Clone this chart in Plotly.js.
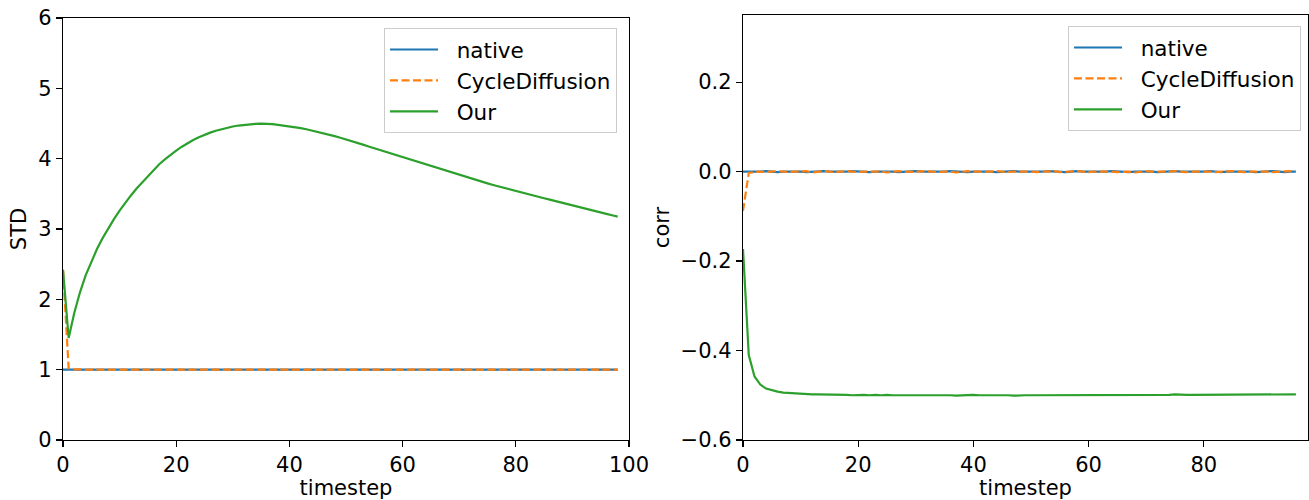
<!DOCTYPE html>
<html>
<head>
<meta charset="utf-8">
<script src="https://cdn.plot.ly/plotly-3.0.1.min.js"></script>
<style>html,body{margin:0;padding:0;background:#fff;}#chart{width:1309px;height:500px;}</style>
</head>
<body>
<div id="chart"></div>
<script>
// ---------- Data ----------
const seriesNames = ["native", "CycleDiffusion", "Our"];

// Left panel: STD per timestep (0..98)
const stdNative = [
1.00,1.00,1.00,1.00,1.00,1.00,1.00,1.00,1.00,1.00,
1.00,1.00,1.00,1.00,1.00,1.00,1.00,1.00,1.00,1.00,
1.00,1.00,1.00,1.00,1.00,1.00,1.00,1.00,1.00,1.00,
1.00,1.00,1.00,1.00,1.00,1.00,1.00,1.00,1.00,1.00,
1.00,1.00,1.00,1.00,1.00,1.00,1.00,1.00,1.00,1.00,
1.00,1.00,1.00,1.00,1.00,1.00,1.00,1.00,1.00,1.00,
1.00,1.00,1.00,1.00,1.00,1.00,1.00,1.00,1.00,1.00,
1.00,1.00,1.00,1.00,1.00,1.00,1.00,1.00,1.00,1.00,
1.00,1.00,1.00,1.00,1.00,1.00,1.00,1.00,1.00,1.00,
1.00,1.00,1.00,1.00,1.00,1.00,1.00,1.00,1.00];

const stdCycle = [
2.42,1.02,1.005,1.00,1.00,1.00,1.00,1.00,1.00,1.00,
1.00,1.00,1.00,1.00,1.00,1.00,1.00,1.00,1.00,1.00,
1.00,1.00,1.00,1.00,1.00,1.00,1.00,1.00,1.00,1.00,
1.00,1.00,1.00,1.00,1.00,1.00,1.00,1.00,1.00,1.00,
1.00,1.00,1.00,1.00,1.00,1.00,1.00,1.00,1.00,1.00,
1.00,1.00,1.00,1.00,1.00,1.00,1.00,1.00,1.00,1.00,
1.00,1.00,1.00,1.00,1.00,1.00,1.00,1.00,1.00,1.00,
1.00,1.00,1.00,1.00,1.00,1.00,1.00,1.00,1.00,1.00,
1.00,1.00,1.00,1.00,1.00,1.00,1.00,1.00,1.00,1.00,
1.00,1.00,1.00,1.00,1.00,1.00,1.00,1.00,1.00];

const stdOur = [
2.420,1.450,1.810,2.100,2.340,2.540,2.715,2.870,3.010,3.140,
3.260,3.372,3.477,3.575,3.665,3.751,3.831,3.920,3.990,4.055,
4.115,4.170,4.220,4.265,4.305,4.340,4.370,4.397,4.420,4.440,
4.457,4.471,4.482,4.490,4.495,4.497,4.495,4.490,4.480,4.470,
4.460,4.447,4.433,4.418,4.400,4.380,4.361,4.341,4.320,4.298,
4.276,4.251,4.225,4.200,4.174,4.149,4.123,4.098,4.072,4.047,
4.021,3.995,3.970,3.944,3.918,3.893,3.867,3.842,3.816,3.790,
3.765,3.741,3.717,3.694,3.671,3.648,3.626,3.604,3.582,3.560,
3.539,3.518,3.497,3.477,3.457,3.437,3.417,3.398,3.379,3.360,
3.339,3.318,3.298,3.277,3.257,3.236,3.216,3.196,3.176];

// Right panel: corr per timestep (0..96)
const corrNative = [
0.000,0.000,-0.001,0.000,0.001,0.000,-0.001,0.000,0.000,0.001,
0.000,-0.001,0.000,0.000,0.001,0.000,0.000,-0.001,0.000,0.001,
0.000,0.000,-0.001,0.000,0.000,0.001,0.000,-0.001,0.000,0.000,
0.001,0.000,0.000,0.000,-0.001,0.000,0.001,0.000,0.000,-0.001,
0.000,0.000,0.001,0.000,-0.001,0.000,0.000,0.001,0.000,0.000,
-0.001,0.000,0.000,0.001,0.000,0.000,-0.001,0.000,0.001,0.000,
0.000,0.000,-0.001,0.000,0.001,0.000,0.000,-0.001,0.000,0.000,
0.001,0.000,-0.001,0.000,0.000,0.001,0.000,0.000,-0.001,0.000,
0.000,0.001,0.000,-0.001,0.000,0.000,0.001,0.000,0.000,-0.001,
0.000,0.000,0.001,0.000,-0.001,0.000,0.000];

const corrCycle = [
-0.088,-0.003,-0.001,0.000,-0.001,0.000,0.001,0.000,-0.001,0.000,
0.000,0.001,-0.002,0.000,0.001,0.000,-0.001,0.000,0.001,0.000,
-0.001,0.000,0.000,0.001,0.000,-0.002,0.000,0.001,0.000,0.000,
-0.001,0.001,0.000,0.000,-0.001,0.000,0.000,-0.002,0.000,0.001,
0.000,0.000,-0.001,0.000,0.001,0.000,-0.001,0.000,0.000,0.001,
0.000,-0.001,0.000,0.000,0.001,-0.001,0.000,0.000,0.001,0.000,
-0.001,0.000,0.000,0.001,0.000,-0.001,0.000,0.000,-0.002,0.000,
0.001,0.000,0.000,-0.001,0.000,0.001,0.000,-0.001,0.000,0.000,
0.001,0.000,-0.001,0.000,0.000,0.001,0.000,-0.001,0.000,0.000,
0.001,0.000,-0.001,0.000,0.000,0.001,0.000];

const corrOur = [
-0.173,-0.410,-0.458,-0.476,-0.485,-0.489,-0.492,-0.494,-0.495,-0.496,
-0.497,-0.497,-0.498,-0.498,-0.498,-0.499,-0.499,-0.498,-0.499,-0.500,
-0.499,-0.499,-0.500,-0.499,-0.500,-0.499,-0.500,-0.500,-0.499,-0.499,
-0.500,-0.500,-0.499,-0.500,-0.499,-0.500,-0.500,-0.501,-0.500,-0.500,
-0.499,-0.500,-0.500,-0.499,-0.500,-0.500,-0.500,-0.501,-0.500,-0.500,
-0.500,-0.500,-0.499,-0.500,-0.500,-0.499,-0.500,-0.500,-0.499,-0.500,
-0.500,-0.500,-0.499,-0.500,-0.499,-0.499,-0.500,-0.499,-0.499,-0.499,
-0.499,-0.500,-0.499,-0.499,-0.499,-0.498,-0.499,-0.499,-0.499,-0.499,
-0.498,-0.499,-0.499,-0.498,-0.499,-0.499,-0.498,-0.499,-0.499,-0.498,
-0.498,-0.499,-0.498,-0.498,-0.498,-0.498,-0.498];

const stdTicks = [0, 1, 2, 3, 4, 5, 6];
const stdTickLabels = ["0", "1", "2", "3", "4", "5", "6"];
const corrTicks = [-0.6, -0.4, -0.2, 0.0, 0.2];
const corrTickLabels = ["\u22120.6", "\u22120.4", "\u22120.2", "0.0", "0.2"];
const stepTicksLeft = [0, 20, 40, 60, 80, 100];
const stepTicksRight = [0, 20, 40, 60, 80];

// ---------- Styles ----------
const colors = ["#1f77b4", "#ff7f0e", "#2ca02c"];
const dashes = ["solid", "8px,3.5px", "solid"];
const FONT = "DejaVu Sans, Liberation Sans, sans-serif";
const FS = 21;
const LFS = 21.5;
const GAP = "\u00a0\u00a0";   // visual gap between legend line and label
const steps = arr => arr.map((_, i) => i);

const leftSeries = [stdNative, stdCycle, stdOur];
const rightSeries = [corrNative, corrCycle, corrOur];

const traces = [];
leftSeries.forEach((ys, k) => traces.push({
  type: "scatter", mode: "lines", x: steps(ys), y: ys, name: GAP + seriesNames[k],
  xaxis: "x", yaxis: "y", legend: "legend", legendgroup: "L" + k,
  line: {color: colors[k], width: 2.2, dash: dashes[k]}
}));
rightSeries.forEach((ys, k) => traces.push({
  type: "scatter", mode: "lines", x: steps(ys), y: ys, name: GAP + seriesNames[k],
  xaxis: "x2", yaxis: "y2", legend: "legend2", legendgroup: "R" + k,
  line: {color: colors[k], width: 2.2, dash: dashes[k]}
}));

const axisBase = {
  showline: true, linecolor: "#000", linewidth: 1.2, mirror: true,
  showgrid: false, zeroline: false,
  ticks: "outside", ticklen: 6, tickwidth: 1.2, tickcolor: "#000",
  tickfont: {family: FONT, size: FS, color: "#000"},
  automargin: false
};

const W = 1309, H = 500;
const legendBase = {
  xanchor: "right", yanchor: "top",
  bgcolor: "rgba(255,255,255,0.8)", bordercolor: "#cccccc", borderwidth: 1,
  font: {family: FONT, size: LFS, color: "#000"},
  itemwidth: 48, tracegroupgap: 2, traceorder: "normal"
};
const layout = {
  width: W, height: H,
  margin: {l: 0, r: 0, t: 0, b: 0},
  paper_bgcolor: "#fff", plot_bgcolor: "#fff",
  font: {family: FONT, size: FS, color: "#000"},
  showlegend: true,
  xaxis: Object.assign({}, axisBase, {
    domain: [63 / W, 629 / W], range: [0, 100],
    tickvals: stepTicksLeft, ticktext: stepTicksLeft.map(String),
    title: {text: "timestep", font: {family: FONT, size: FS}, standoff: 7},
    anchor: "y"
  }),
  yaxis: Object.assign({}, axisBase, {
    domain: [1 - 440 / H, 1 - 18 / H], range: [0, 6],
    tickvals: stdTicks, ticktext: stdTickLabels,
    title: {text: "STD", font: {family: FONT, size: FS}, standoff: 5},
    anchor: "x"
  }),
  xaxis2: Object.assign({}, axisBase, {
    domain: [743 / W, 1308 / W], range: [0, 98.1],
    tickvals: stepTicksRight, ticktext: stepTicksRight.map(String),
    title: {text: "timestep", font: {family: FONT, size: FS}, standoff: 7},
    anchor: "y2"
  }),
  yaxis2: Object.assign({}, axisBase, {
    domain: [1 - 440 / H, 1 - 15 / H], range: [-0.6, 0.35],
    tickvals: corrTicks, ticktext: corrTickLabels,
    title: {text: "corr", font: {family: FONT, size: FS}, standoff: 5},
    anchor: "x2"
  }),
  legend: Object.assign({}, legendBase, {x: 617 / W, y: 1 - 28 / H}),
  legend2: Object.assign({}, legendBase, {x: 1301 / W, y: 1 - 26 / H})
};

Plotly.newPlot("chart", traces, layout, {displayModeBar: false, staticPlot: true});
</script>
</body>
</html>
